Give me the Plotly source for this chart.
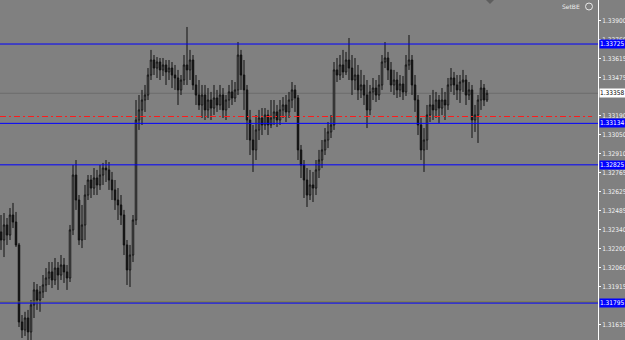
import plotly.graph_objects as go

opens = [1.32325, 1.32265, 1.32377, 1.32302, 1.32451, 1.32399, 1.32228, 1.31654, 1.31595, 1.31684,
         1.31580, 1.31781, 1.31893, 1.31818, 1.31878, 1.31930, 1.31982, 1.32027, 1.31967, 1.32056,
         1.32004, 1.32079, 1.32027, 1.31982, 1.32340, 1.32749, 1.32563, 1.32265, 1.32377, 1.32600,
         1.32712, 1.32652, 1.32727, 1.32675, 1.32749, 1.32801, 1.32787, 1.32712, 1.32638, 1.32563,
         1.32526, 1.32451, 1.32228, 1.32042, 1.32153, 1.32414, 1.33159, 1.33234, 1.33308, 1.33345,
         1.33494, 1.33606, 1.33546, 1.33591, 1.33532, 1.33569, 1.33517, 1.33546, 1.33494, 1.33472,
         1.33383, 1.33457, 1.33569, 1.33532, 1.33606, 1.33420, 1.33345, 1.33271, 1.33345, 1.33234,
         1.33308, 1.33248, 1.33323, 1.33271, 1.33345, 1.33234, 1.33308, 1.33368, 1.33323, 1.33383,
         1.33643, 1.33494, 1.33383, 1.33159, 1.33010, 1.32936, 1.33085, 1.33174, 1.33122, 1.33196,
         1.33122, 1.33174, 1.33219, 1.33159, 1.33234, 1.33271, 1.33219, 1.33308, 1.33383, 1.33323,
         1.32936, 1.32824, 1.32712, 1.32600, 1.32675, 1.32652, 1.32787, 1.32861, 1.32936, 1.33010,
         1.33070, 1.33122, 1.33532, 1.33494, 1.33569, 1.33517, 1.33606, 1.33546, 1.33457, 1.33494,
         1.33383, 1.33420, 1.33345, 1.33234, 1.33368, 1.33397, 1.33345, 1.33420, 1.33591, 1.33621,
         1.33532, 1.33420, 1.33457, 1.33383, 1.33427, 1.33368, 1.33569, 1.33606, 1.33420, 1.33308,
         1.33122, 1.32936, 1.33010, 1.33196, 1.33271, 1.33234, 1.33308, 1.33248, 1.33308, 1.33271,
         1.33420, 1.33472, 1.33420, 1.33383, 1.33442, 1.33457, 1.33345, 1.33383, 1.33159, 1.33196,
         1.33308, 1.33397, 1.33308]

closes = [1.32265, 1.32377, 1.32302, 1.32451, 1.32399, 1.32228, 1.31654, 1.31595, 1.31684, 1.31580,
          1.31781, 1.31893, 1.31818, 1.31878, 1.31930, 1.31982, 1.32027, 1.31967, 1.32056, 1.32004,
          1.32079, 1.32027, 1.31982, 1.32340, 1.32749, 1.32563, 1.32265, 1.32377, 1.32600, 1.32712,
          1.32652, 1.32727, 1.32675, 1.32749, 1.32801, 1.32787, 1.32712, 1.32638, 1.32563, 1.32526,
          1.32451, 1.32228, 1.32042, 1.32153, 1.32414, 1.33159, 1.33234, 1.33308, 1.33345, 1.33494,
          1.33606, 1.33546, 1.33591, 1.33532, 1.33569, 1.33517, 1.33546, 1.33494, 1.33472, 1.33383,
          1.33457, 1.33569, 1.33532, 1.33606, 1.33420, 1.33345, 1.33271, 1.33345, 1.33234, 1.33308,
          1.33248, 1.33323, 1.33271, 1.33345, 1.33234, 1.33308, 1.33368, 1.33323, 1.33383, 1.33643,
          1.33494, 1.33383, 1.33159, 1.33010, 1.32936, 1.33085, 1.33174, 1.33122, 1.33196, 1.33122,
          1.33174, 1.33219, 1.33159, 1.33234, 1.33271, 1.33219, 1.33308, 1.33383, 1.33323, 1.32936,
          1.32824, 1.32712, 1.32600, 1.32675, 1.32652, 1.32787, 1.32861, 1.32936, 1.33010, 1.33070,
          1.33122, 1.33532, 1.33494, 1.33569, 1.33517, 1.33606, 1.33546, 1.33457, 1.33494, 1.33383,
          1.33420, 1.33345, 1.33234, 1.33368, 1.33397, 1.33345, 1.33420, 1.33591, 1.33621, 1.33532,
          1.33420, 1.33457, 1.33383, 1.33427, 1.33368, 1.33569, 1.33606, 1.33420, 1.33308, 1.33122,
          1.32936, 1.33010, 1.33196, 1.33271, 1.33234, 1.33308, 1.33248, 1.33308, 1.33271, 1.33420,
          1.33472, 1.33420, 1.33383, 1.33442, 1.33457, 1.33345, 1.33383, 1.33159, 1.33196, 1.33308,
          1.33397, 1.33308, 1.33358]

highs = [1.32451, 1.32466, 1.32429, 1.32503, 1.32541, 1.32474, 1.32243, 1.31706, 1.31730, 1.31744,
         1.31818, 1.31952, 1.31937, 1.31922, 1.32004, 1.32056, 1.32101, 1.32101, 1.32131, 1.32101,
         1.32153, 1.32131, 1.32079, 1.32377, 1.32824, 1.32861, 1.32600, 1.32526, 1.32675, 1.32749,
         1.32749, 1.32801, 1.32787, 1.32824, 1.32839, 1.32861, 1.32846, 1.32772, 1.32712, 1.32652,
         1.32600, 1.32489, 1.32265, 1.32228, 1.32451, 1.33308, 1.33345, 1.33383, 1.33420, 1.33546,
         1.33681, 1.33643, 1.33628, 1.33621, 1.33621, 1.33606, 1.33606, 1.33591, 1.33569, 1.33532,
         1.33494, 1.33643, 1.33852, 1.33681, 1.33643, 1.33494, 1.33457, 1.33420, 1.33420, 1.33397,
         1.33368, 1.33420, 1.33383, 1.33420, 1.33397, 1.33345, 1.33420, 1.33457, 1.33442, 1.33740,
         1.33681, 1.33606, 1.33420, 1.33234, 1.33122, 1.33196, 1.33234, 1.33248, 1.33248, 1.33234,
         1.33308, 1.33308, 1.33271, 1.33308, 1.33330, 1.33345, 1.33368, 1.33442, 1.33420, 1.33345,
         1.32973, 1.32861, 1.32801, 1.32787, 1.32772, 1.32861, 1.32936, 1.33010, 1.33099, 1.33144,
         1.33196, 1.33591, 1.33621, 1.33643, 1.33681, 1.33666, 1.33770, 1.33643, 1.33621, 1.33569,
         1.33532, 1.33494, 1.33457, 1.33420, 1.33472, 1.33457, 1.33494, 1.33643, 1.33740, 1.33666,
         1.33591, 1.33532, 1.33517, 1.33494, 1.33487, 1.33643, 1.33792, 1.33643, 1.33494, 1.33345,
         1.33174, 1.33099, 1.33271, 1.33345, 1.33383, 1.33368, 1.33345, 1.33397, 1.33368, 1.33472,
         1.33546, 1.33517, 1.33494, 1.33494, 1.33532, 1.33494, 1.33442, 1.33420, 1.33271, 1.33345,
         1.33457, 1.33427, 1.33383]

lows = [1.32191, 1.32138, 1.32228, 1.32265, 1.32354, 1.32213, 1.31617, 1.31535, 1.31550, 1.31520,
        1.31505, 1.31684, 1.31744, 1.31730, 1.31833, 1.31878, 1.31930, 1.31907, 1.31930, 1.31893,
        1.31967, 1.31945, 1.31893, 1.31952, 1.32302, 1.32489, 1.32228, 1.32205, 1.32265, 1.32563,
        1.32578, 1.32600, 1.32600, 1.32638, 1.32675, 1.32697, 1.32638, 1.32563, 1.32489, 1.32414,
        1.32377, 1.32153, 1.31930, 1.31915, 1.32101, 1.32377, 1.33085, 1.33122, 1.33219, 1.33308,
        1.33457, 1.33494, 1.33472, 1.33457, 1.33487, 1.33420, 1.33457, 1.33397, 1.33383, 1.33271,
        1.33345, 1.33420, 1.33420, 1.33457, 1.33383, 1.33271, 1.33234, 1.33174, 1.33159, 1.33174,
        1.33159, 1.33196, 1.33219, 1.33234, 1.33174, 1.33159, 1.33248, 1.33271, 1.33293, 1.33345,
        1.33383, 1.33234, 1.33010, 1.32898, 1.32772, 1.32861, 1.33010, 1.33047, 1.33085, 1.33047,
        1.33099, 1.33122, 1.33107, 1.33122, 1.33174, 1.33144, 1.33174, 1.33248, 1.33219, 1.32861,
        1.32727, 1.32578, 1.32511, 1.32563, 1.32548, 1.32600, 1.32727, 1.32801, 1.32898, 1.32950,
        1.33025, 1.33085, 1.33442, 1.33457, 1.33472, 1.33494, 1.33457, 1.33345, 1.33383, 1.33308,
        1.33323, 1.33271, 1.33099, 1.33196, 1.33308, 1.33293, 1.33308, 1.33383, 1.33546, 1.33457,
        1.33368, 1.33345, 1.33323, 1.33330, 1.33308, 1.33338, 1.33532, 1.33345, 1.33219, 1.33047,
        1.32861, 1.32772, 1.32936, 1.33144, 1.33159, 1.33174, 1.33137, 1.33196, 1.33159, 1.33234,
        1.33368, 1.33345, 1.33308, 1.33286, 1.33368, 1.33271, 1.33308, 1.33025, 1.33070, 1.32988,
        1.33234, 1.33263, 1.33293]

tick_values = [1.33900, 1.33760, 1.33615, 1.33475, 1.33190, 1.33050, 1.32910, 1.32765,
               1.32625, 1.32485, 1.32340, 1.32200, 1.32060, 1.31915, 1.31635]

blue_levels = [1.33725, 1.33134, 1.32825, 1.31795]
bid_price = 1.33358
red_level = 1.33185

n = min(len(opens), len(closes), len(highs), len(lows))
bars = list(range(n))

BG = "#808080"
NARROW = "Liberation Sans Narrow, DejaVu Sans Condensed, Arial Narrow, sans-serif"

fig = go.Figure()
fig.add_trace(go.Candlestick(
    x=bars, open=opens[:n], high=highs[:n], low=lows[:n], close=closes[:n],
    increasing=dict(line=dict(color="#101010", width=1), fillcolor="#c4c4c4"),
    decreasing=dict(line=dict(color="#101010", width=1), fillcolor="#101010"),
    whiskerwidth=0, showlegend=False, hoverinfo="skip",
))

shapes = []
shapes.append(dict(type="line", xref="paper", x0=0, x1=1, yref="y", y0=1.31803, y1=1.31803,
                   line=dict(color="#7a7a30", width=1)))
for lv in blue_levels:
    shapes.append(dict(type="line", xref="paper", x0=0, x1=1, yref="y", y0=lv, y1=lv,
                       line=dict(color="#0000ff", width=1)))
shapes.append(dict(type="line", xref="paper", x0=0, x1=1, yref="y", y0=bid_price, y1=bid_price,
                   line=dict(color="#6c6c6c", width=1), layer="below"))
shapes.append(dict(type="line", xref="paper", x0=0, x1=0.99, yref="y", y0=red_level, y1=red_level,
                   line=dict(color="#ff1a1a", width=1, dash="6px,3px,2px,3px")))
shapes.append(dict(type="path", xref="paper", yref="paper", xsizemode="pixel", ysizemode="pixel",
                   xanchor=490 / 598, yanchor=1, path="M -4 0 L 4 0 L 0 -4 Z",
                   fillcolor="#5e5e5e", line=dict(width=0)))
shapes.append(dict(type="circle", xref="paper", yref="paper", xsizemode="pixel", ysizemode="pixel",
                   xanchor=589 / 598, yanchor=1, x0=-3.5, x1=3.5, y0=-10, y1=-3,
                   line=dict(color="#e8e8e8", width=1)))

annotations = []
box_font = dict(family=NARROW, size=6.5)
for lv in blue_levels:
    annotations.append(dict(x=1, xref="paper", y=lv, yref="y", xanchor="left", yanchor="middle",
                            text=f"{lv:.5f}", showarrow=False, bgcolor="#0000ff",
                            font=dict(color="#ffffff", **box_font), borderpad=0, xshift=1,
                            width=25, height=8, align="left"))
annotations.append(dict(x=1, xref="paper", y=bid_price, yref="y", xanchor="left", yanchor="middle",
                        text=f"{bid_price:.5f}", showarrow=False, bgcolor="#ffffff",
                        font=dict(color="#000000", **box_font), borderpad=0, xshift=1,
                        width=25, height=8, align="left"))
annotations.append(dict(x=582 / 598, xref="paper", y=1, yref="paper", xanchor="right", yanchor="top",
                        text="SetBE", showarrow=False, yshift=-1,
                        font=dict(color="#eeeeee", size=6, family="DejaVu Sans")))

fig.update_layout(
    width=625, height=340,
    margin=dict(l=0, r=27, t=0, b=0),
    paper_bgcolor=BG, plot_bgcolor=BG,
    shapes=shapes, annotations=annotations,
    xaxis=dict(range=[-1 / 3, -1 / 3 + 598 / 3], visible=False, rangeslider=dict(visible=False),
               fixedrange=True),
    yaxis=dict(range=[1.31520, 1.34053], side="right", showgrid=False, zeroline=False,
               tickmode="array", tickvals=tick_values, ticktext=[f"{v:.5f}" for v in tick_values],
               ticks="outside", ticklen=2, tickcolor="#ffffff", showline=True,
               linecolor="#ffffff", linewidth=1, automargin=False,
               tickfont=dict(color="#f2f2f2", size=6.5, family=NARROW)),
)

fig.write_html("out.html")
